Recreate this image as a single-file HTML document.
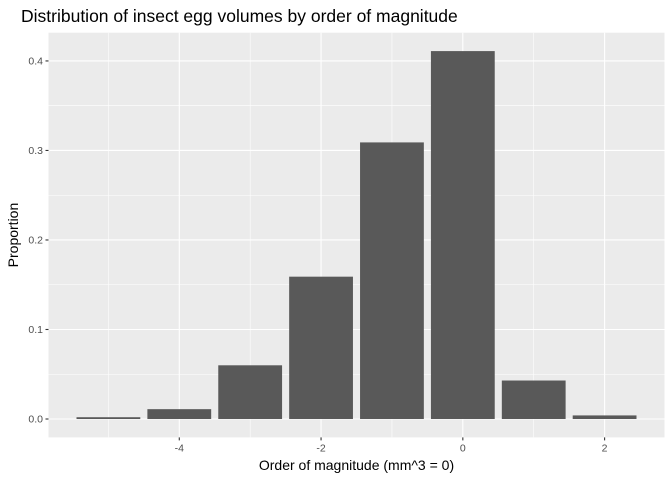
<!DOCTYPE html>
<html><head><meta charset="utf-8"><style>
body{margin:0;background:#fff;font-family:"Liberation Sans",sans-serif;}
svg{display:block}
</style></head><body>
<svg id="c" width="672" height="480" xmlns="http://www.w3.org/2000/svg"></svg>
<script>
const categories=[-5,-4,-3,-2,-1,0,1,2];
const proportions=[0.002,0.011,0.060,0.159,0.309,0.411,0.043,0.004];
const xTicks=[-4,-2,0,2];
const yTicks=[0,0.1,0.2,0.3,0.4];
const yTickLabels=["0.0","0.1","0.2","0.3","0.4"];

const NS="http://www.w3.org/2000/svg";
const svg=document.getElementById('c');
const L=48.5,R=664.5,T=32.7,B=437.4;
const xmin=Math.min(...categories)-0.45,xmax=Math.max(...categories)+0.45;
const xpad=(xmax-xmin)*0.05;
const ymax=Math.max(...proportions),ypad=ymax*0.05;
const x=v=>L+(v-(xmin-xpad))/((xmax+xpad)-(xmin-xpad))*(R-L);
const y=v=>B-(v+ypad)/(ymax+2*ypad)*(B-T);
function el(t,a,txt){const e=document.createElementNS(NS,t);for(const k in a)e.setAttribute(k,a[k]);if(txt!==undefined)e.textContent=txt;svg.appendChild(e);return e;}

const bg=el('rect',{x:L,y:T,width:R-L,height:B-T,fill:'#EBEBEB'});


for(let i=0;i<yTicks.length-1;i++){const g=el('line',{x1:L,x2:R,y1:y((yTicks[i]+yTicks[i+1])/2),y2:y((yTicks[i]+yTicks[i+1])/2),stroke:'#fff','stroke-width':0.55});

}
const xm=[xTicks[0]-1].concat(xTicks.map(v=>v+1));
xm.forEach(v=>{const g=el('line',{x1:x(v),x2:x(v),y1:T,y2:B,stroke:'#fff','stroke-width':0.55});

});
yTicks.forEach((v,i)=>{const g=el('line',{x1:L,x2:R,y1:y(v),y2:y(v),stroke:'#fff','stroke-width':1.1});


const tk=el('line',{x1:L-3,x2:L,y1:y(v),y2:y(v),stroke:'#333','stroke-width':1.1});


const t=el('text',{x:L-5.5,y:y(v)+3.5,'text-anchor':'end','font-size':'10.5',fill:'#4D4D4D'},yTickLabels[i]);

});
xTicks.forEach(v=>{const g=el('line',{x1:x(v),x2:x(v),y1:T,y2:B,stroke:'#fff','stroke-width':1.1});


const tk=el('line',{x1:x(v),x2:x(v),y1:B,y2:B+3,stroke:'#333','stroke-width':1.1});


const t=el('text',{x:x(v),y:B+14,'text-anchor':'middle','font-size':'10.5',fill:'#4D4D4D'},String(v));

});
categories.forEach((c,i)=>{const b=el('rect',{x:x(c-0.45),y:y(proportions[i]),width:x(c+0.45)-x(c-0.45),height:y(0)-y(proportions[i]),fill:'#595959'});

});
const ti=el('text',{x:21,y:22,'font-size':'17.5',fill:'#000'},'Distribution of insect egg volumes by order of magnitude');


const xt=el('text',{x:(L+R)/2,y:470,'text-anchor':'middle','font-size':'14',fill:'#000'},'Order of magnitude (mm^3 = 0)');


const yt=el('text',{x:0,y:0,'text-anchor':'middle','font-size':'14',fill:'#000',transform:`translate(18,${(T+B)/2}) rotate(-90)`},'Proportion');


</script>
</body></html>
